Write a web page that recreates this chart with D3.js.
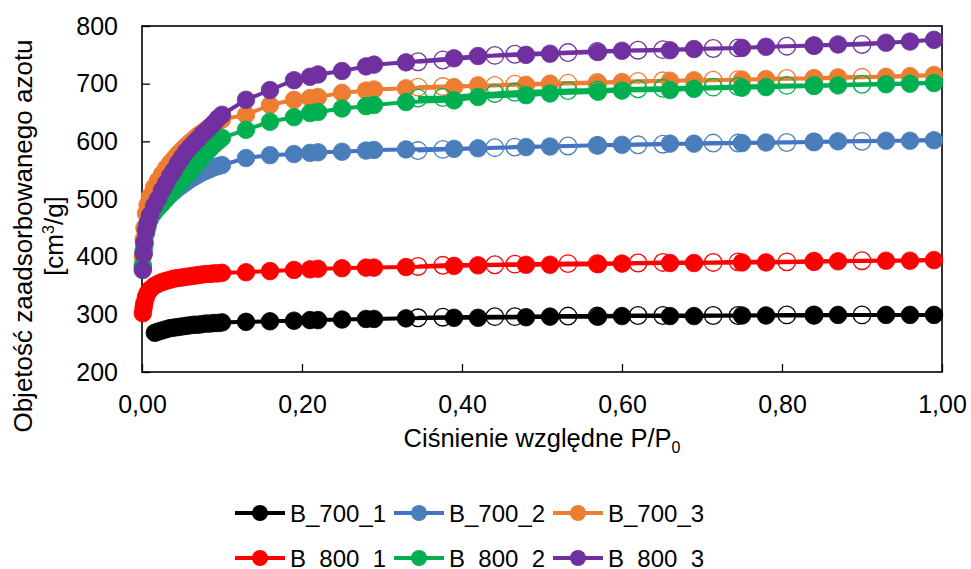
<!DOCTYPE html>
<html>
<head>
<meta charset="utf-8">
<script src="https://cdn.jsdelivr.net/npm/d3@7/dist/d3.min.js"></script>
<style>
  html, body { margin: 0; padding: 0; background: #fff; }
  svg { display: block; font-family: "Liberation Sans", Arial, sans-serif; }
</style>
</head>
<body>
<svg id="chart" width="971" height="569"></svg>
<script>
// Relative pressure grids (P/P0)
const pLow = [0.001, 0.002, 0.003, 0.005, 0.007, 0.01, 0.015, 0.02, 0.025, 0.03, 0.035, 0.04,
              0.045, 0.05, 0.055, 0.06, 0.065, 0.07, 0.075, 0.08, 0.085, 0.09, 0.095, 0.1];
const pLowB700_1 = [0.016, 0.02, 0.025, 0.03, 0.035, 0.04, 0.045, 0.05, 0.055, 0.06, 0.065, 0.07,
                    0.075, 0.08, 0.085, 0.09, 0.095, 0.1];
const pHigh = [0.13, 0.16, 0.19, 0.21, 0.22, 0.25, 0.28, 0.29, 0.33, 0.39, 0.42, 0.48,
               0.51, 0.57, 0.60, 0.66, 0.69, 0.75, 0.78, 0.84, 0.87, 0.93, 0.96, 0.99];
const pDes = [0.90, 0.84, 0.806, 0.745, 0.714, 0.651, 0.62, 0.569, 0.5325, 0.466, 0.441, 0.376, 0.345];

// Adsorbed volume [cm3/g]: adsorption at low and high pressure, then desorption
const b700_1_low = [268, 270, 272, 274, 276, 277, 278, 279, 280, 281, 282, 282, 283, 284, 284, 285, 285, 286];
const b700_1_high = [287, 288, 289, 290, 290, 291, 292, 292, 293, 294, 294, 295, 296, 296, 297, 297, 297, 298, 298, 298, 299, 299, 299, 299];
const b700_1_des = [299, 299, 299, 298, 298, 298, 298, 297, 297, 296, 296, 295, 294];

const b700_2_low = [380, 405, 420, 440, 452, 465, 476, 485, 493, 500, 507, 513, 519, 524, 529, 534, 538, 542, 546, 549, 552, 555, 557, 559];
const b700_2_high = [571, 576, 578, 580, 581, 582, 584, 585, 586, 587, 588, 590, 591, 593, 594, 596, 596, 597, 598, 599, 600, 601, 601, 602];
const b700_2_des = [600, 599, 598, 597, 597, 595, 594, 593, 592, 590, 589, 586, 584];

const b700_3_low = [400, 430, 450, 475, 490, 505, 520, 532, 543, 553, 562, 570, 578, 585, 592, 598, 604, 610, 615, 620, 625, 630, 634, 638];
const b700_3_high = [646, 663, 672, 675, 677, 684, 688, 690, 692, 694, 697, 698, 700, 701, 703, 705, 706, 707, 708, 709, 711, 712, 713, 715];
const b700_3_des = [711, 709, 709, 707, 706, 705, 704, 702, 701, 699, 697, 695, 694];

const b800_1_low = [302, 312, 320, 330, 337, 343, 349, 353, 356, 358, 360, 362, 363, 364, 365, 366, 367, 368, 369, 370, 370, 371, 371, 372];
const b800_1_high = [373, 375, 377, 378, 379, 380, 381, 381, 382, 384, 385, 386, 386, 387, 388, 389, 389, 390, 390, 391, 392, 393, 393, 394];
const b800_1_des = [393, 392, 391, 391, 390, 390, 389, 388, 388, 387, 386, 385, 383];

const b800_2_low = [385, 410, 425, 445, 458, 468, 478, 485, 492, 500, 508, 516, 524, 532, 540, 548, 556, 564, 572, 580, 587, 594, 600, 606];
const b800_2_high = [620, 634, 642, 649, 651, 657, 661, 663, 668, 671, 677, 680, 683, 686, 688, 689, 691, 693, 694, 696, 697, 699, 700, 701];
const b800_2_des = [699, 697, 697, 695, 694, 692, 691, 689, 688, 685, 683, 676, 675];

const b800_3_low = [377, 405, 425, 445, 458, 472, 488, 500, 515, 527, 540, 550, 562, 572, 582, 590, 597, 604, 612, 618, 625, 632, 640, 646];
const b800_3_high = [672, 689, 706, 712, 716, 722, 730, 733, 737, 744, 748, 750, 752, 755, 757, 758, 760, 762, 764, 766, 768, 771, 773, 776];
const b800_3_des = [768, 766, 765, 762, 761, 759, 758, 756, 754, 751, 749, 741, 738];

const seriesNames = ["B_700_1", "B_700_2", "B_700_3", "B_800_1", "B_800_2", "B_800_3"];
const lineColors = ["#000000", "#4472C4", "#ED7D31", "#FF0000", "#00B050", "#7030A0"];
const markerColors = ["#000000", "#4A7EBB", "#ED7D31", "#FF0000", "#00B050", "#7030A0"];

const xTicks = [0, 0.2, 0.4, 0.6, 0.8, 1.0];
const yTicks = [200, 300, 400, 500, 600, 700, 800];

const lowGrids = [pLowB700_1, pLow, pLow, pLow, pLow, pLow];
const lowVals = [b700_1_low, b700_2_low, b700_3_low, b800_1_low, b800_2_low, b800_3_low];
const highVals = [b700_1_high, b700_2_high, b700_3_high, b800_1_high, b800_2_high, b800_3_high];
const desVals = [b700_1_des, b700_2_des, b700_3_des, b800_1_des, b800_2_des, b800_3_des];

const series = seriesNames.map((name, i) => {
  const ads = lowGrids[i].map((p, j) => ({p, v: lowVals[i][j], open: false}))
    .concat(pHigh.map((p, j) => ({p, v: highVals[i][j], open: false})));
  const des = pDes.map((p, j) => ({p, v: desVals[i][j], open: true}));
  return {name, line: lineColors[i], marker: markerColors[i], points: ads.concat(des)};
});

const svg = d3.select("#chart");
const plotLeft = 142, plotRight = 942, plotTop = 26, plotBottom = 372;
const x = d3.scaleLinear().domain([0, 1]).range([plotLeft, plotRight]);
const y = d3.scaleLinear().domain([200, 800]).range([plotBottom, plotTop]);
const fmt = d => d3.format(".2f")(d).replace(".", ",");
const markerR = 8.8;

// Axes with inward ticks
const gx = svg.append("g").attr("transform", `translate(0,${plotBottom})`)
  .call(d3.axisBottom(x).tickValues(xTicks).tickSizeInner(-8).tickSizeOuter(0).tickPadding(23).tickFormat(fmt));
const gy = svg.append("g").attr("transform", `translate(${plotLeft},0)`)
  .call(d3.axisLeft(y).tickValues(yTicks).tickSizeInner(-8).tickSizeOuter(0).tickPadding(24));
[gx, gy].forEach(g => {
  g.select(".domain").remove();
  g.selectAll(".tick line").attr("stroke", "#000").attr("stroke-width", 1.3);
  g.selectAll(".tick text").attr("fill", "#000").style("font-size", "25px")
    .style("font-family", "'Liberation Sans', Arial, sans-serif");
});

// Plot frame
svg.append("rect")
  .attr("x", plotLeft).attr("y", plotTop).attr("width", plotRight - plotLeft).attr("height", plotBottom - plotTop)
  .attr("fill", "none").attr("stroke", "#000").attr("stroke-width", 1.6);

// Isotherms: adsorption (filled) and desorption (open) branches on one path
const line = d3.line().x(d => x(d.p)).y(d => y(d.v));
const plot = svg.append("g");
series.forEach(s => {
  const g = plot.append("g");
  g.append("path").datum(s.points).attr("d", line)
    .attr("fill", "none").attr("stroke", s.line).attr("stroke-width", 4)
    .attr("stroke-linejoin", "round");
  g.selectAll("circle").data(s.points).join("circle")
    .attr("cx", d => x(d.p)).attr("cy", d => y(d.v)).attr("r", markerR)
    .attr("fill", d => d.open ? "none" : s.marker)
    .attr("stroke", s.marker).attr("stroke-width", d => d.open ? 1.3 : 0.8);
});

// Axis titles
const xt = svg.append("text").attr("x", 542).attr("y", 447).attr("text-anchor", "middle")
  .style("font-size", "25.5px").attr("fill", "#000");
xt.append("tspan").text("Ciśnienie względne P/P");
xt.append("tspan").text("0").attr("dy", 6).style("font-size", "16px");

const yt = svg.append("text").attr("transform", "translate(0,236) rotate(-90)")
  .attr("text-anchor", "middle").style("font-size", "26px").attr("fill", "#000");
yt.append("tspan").attr("x", 0).attr("y", 32).text("Objetość zaadsorbowanego azotu");
const yt2 = yt.append("tspan").attr("x", 0).attr("y", 63);
yt2.append("tspan").text("[cm");
yt2.append("tspan").text("3").attr("dy", -9).style("font-size", "16px");
yt2.append("tspan").text("/g]").attr("dy", 9);

// Legend
const legend = svg.append("g");
series.forEach((s, i) => {
  const col = i % 3, row = Math.floor(i / 3);
  const lx = 235 + col * 159, ly = 513 + row * 45;
  const g = legend.append("g");
  g.append("line").attr("x1", lx).attr("x2", lx + 50).attr("y1", ly).attr("y2", ly)
    .attr("stroke", s.line).attr("stroke-width", 4);
  g.append("circle").attr("cx", lx + 25).attr("cy", ly).attr("r", 8).attr("fill", s.marker);
  g.append("text").attr("x", lx + 55).attr("y", ly + 9).text(s.name)
    .style("font-size", "24px").attr("fill", "#000");
});
</script>
</body>
</html>
